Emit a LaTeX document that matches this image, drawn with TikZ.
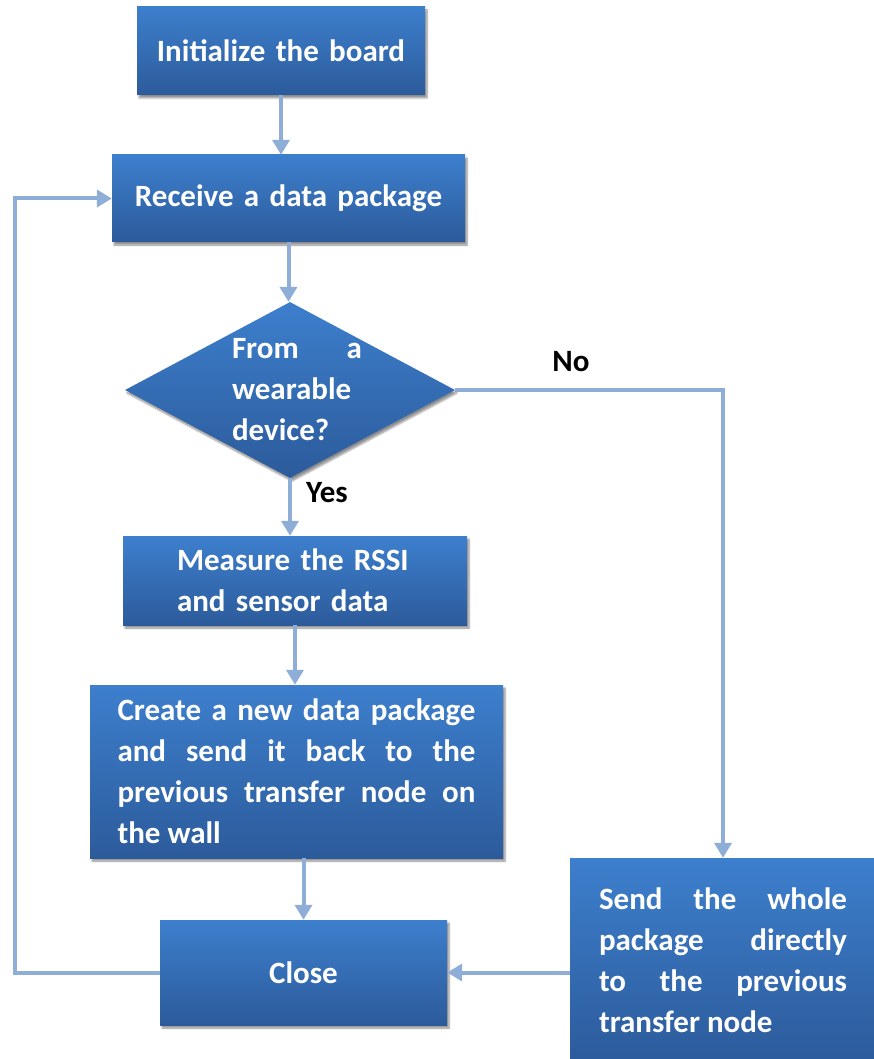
\documentclass[tikz,border=0pt]{standalone}
\usepackage{fontspec}
\setmainfont{Carlito}
\usetikzlibrary{arrows.meta,shapes.geometric,shadows.blur}
\hyphenpenalty=10000
\exhyphenpenalty=10000
\tolerance=10000
\hbadness=10000
\definecolor{boxtop}{HTML}{3D7FCD}
\definecolor{boxbot}{HTML}{2C5B9B}
\definecolor{link}{HTML}{8EAED8}

\tikzset{
  txt/.style={font=\fontsize{31}{41}\selectfont\bfseries},
  fill shade/.style={top color=boxtop, bottom color=boxbot, draw=none,
    blur shadow={shadow xshift=2pt, shadow yshift=-3pt, shadow blur steps=6, shadow opacity=45}},
  flowbox/.style={rectangle, fill shade, txt, text=white, inner sep=0pt},
  decision/.style={diamond, fill shade, inner sep=0pt},
  link/.style={draw=link, line width=4pt, -{Triangle[length=15pt,width=17pt]}},
  tag/.style={txt, text=black}
}

\begin{document}
\begin{tikzpicture}[x=1pt,y=-1pt]
\useasboundingbox (0,0) rectangle (873,1059);

% process steps
\node[flowbox, minimum width=288pt, minimum height=88pt, text width=280pt, align=center]
  (init) at (281,51) {Initialize the board};
\node[flowbox, minimum width=353pt, minimum height=87pt, text width=340pt, align=center]
  (recv) at (288.5,198.5) {Receive a data package};
\node[decision, minimum width=330pt, minimum height=176pt] (dec) at (290,390) {};
\node[txt, text=white, text width=130pt, align=justify, inner sep=0pt]
  (dectext) at (297,390) {From a wearable device?};
\node[flowbox, minimum width=344pt, minimum height=89pt, text width=236pt, align=left]
  (meas) at (295,580.5) {Measure the RSSI\\and sensor data};
\node[flowbox, minimum width=413pt, minimum height=173pt, text width=358pt, align=justify]
  (create) at (296.5,771.5) {Create a new data package and send it back to the previous transfer node on the wall};
\node[flowbox, minimum width=287pt, minimum height=105pt, text width=270pt, align=center]
  (close) at (303.5,972.5) {Close};
\node[flowbox, minimum width=306pt, minimum height=204pt, text width=248pt, align=justify]
  (send) at (723,960) {Send the whole package directly to the previous transfer node};

% connectors
\coordinate (loopx) at (15,976);
\draw[link] (init.south) -- (init.south |- recv.north);
\draw[link] (recv.south) -- (recv.south |- dec.north);
\draw[link] (dec.south) -- (dec.south |- meas.north);
\draw[link] (meas.south) -- (meas.south |- create.north);
\draw[link] (close.north |- create.south) -- (close.north);
\draw[link] (dec.east) -| (send.north);
\draw[link] (send.west |- close.east) -- (close.east);
\draw[link] (close.west) -- (close.west -| loopx) |- (recv.west);

% branch labels
\node[tag] (no) at (571,362) {No};
\node[tag] (yes) at (327,493) {Yes};
\end{tikzpicture}
\end{document}
